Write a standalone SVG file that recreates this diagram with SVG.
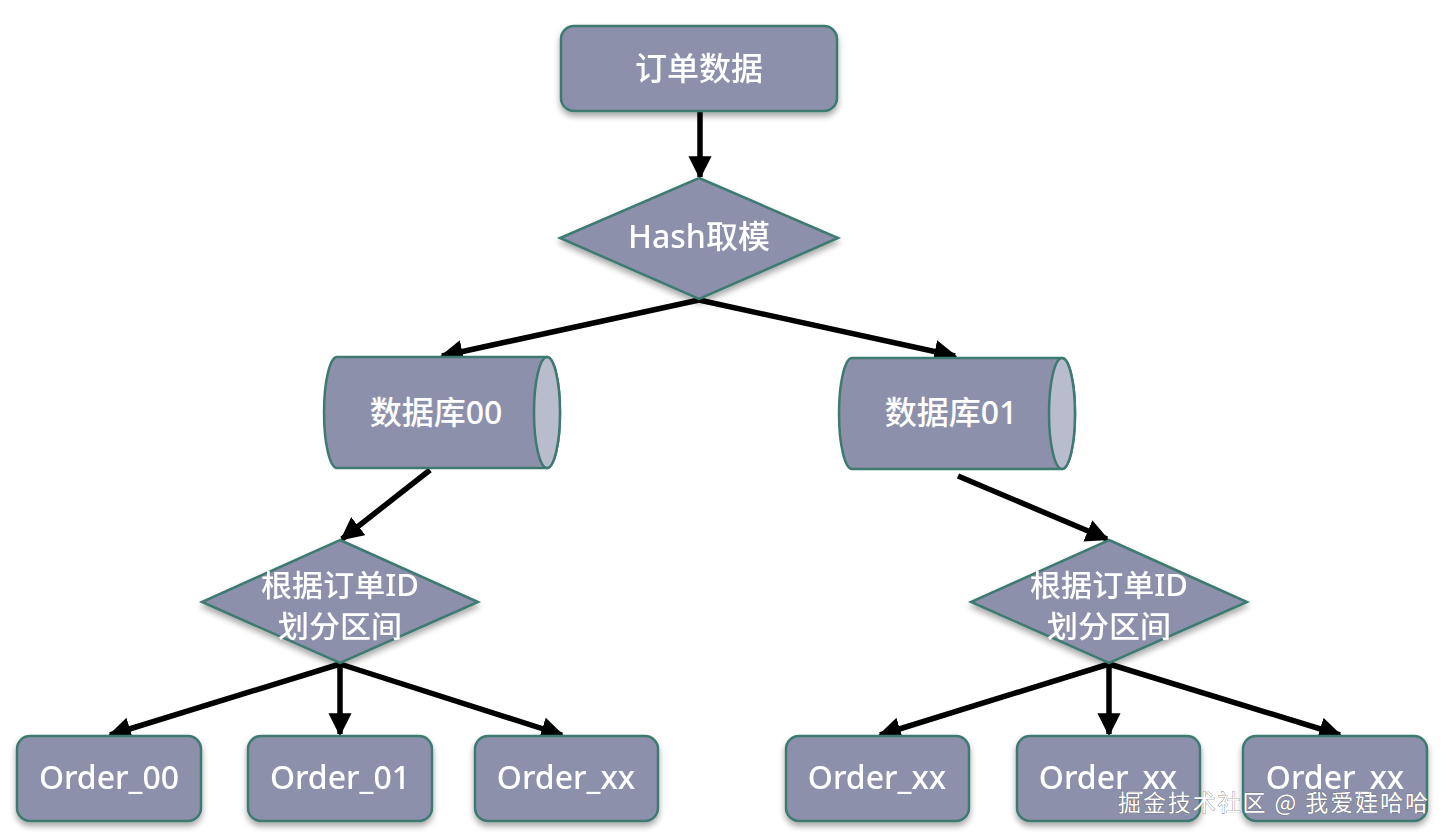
<svg xmlns="http://www.w3.org/2000/svg" width="1452" height="838" viewBox="0 0 1452 838">
<defs>
<style>
.n{fill:#8d90aa;stroke:#3d7a70;stroke-width:2.5}
.cap{fill:#b9bccd;stroke:#3d7a70;stroke-width:2.5}
.t{font-family:"Noto Sans","Noto Sans CJK SC",sans-serif;font-size:32px;fill:#ffffff;text-anchor:middle;dominant-baseline:central;font-weight:500}
.d{font-size:30px}
.c{stroke:#000;stroke-width:5.5;fill:none;marker-end:url(#ah)}
.wm{font-family:"Noto Sans CJK SC","Noto Sans",sans-serif;font-size:23px;fill:#ffffff;stroke:#555;stroke-width:0.6;paint-order:stroke}
</style>
<marker id="ah" viewBox="0 0 10 10" refX="9" refY="5" markerWidth="4.2" markerHeight="4.2" orient="auto" markerUnits="strokeWidth">
<path d="M0,0 L10,5 L0,10 Z" fill="#000"/>
</marker>
<filter id="sh" x="-10%" y="-10%" width="120%" height="130%">
<feGaussianBlur in="SourceAlpha" stdDeviation="3"/>
<feOffset dy="4"/>
<feComponentTransfer><feFuncA type="linear" slope="0.35"/></feComponentTransfer>
<feMerge><feMergeNode/><feMergeNode in="SourceGraphic"/></feMerge>
</filter>
</defs>
<rect width="1452" height="838" fill="#ffffff"/>
<g id="connectors">
<line class="c" x1="700" y1="111" x2="700" y2="177"/>
<line class="c" x1="699" y1="300" x2="442" y2="356"/>
<line class="c" x1="699" y1="300" x2="955" y2="356"/>
<line class="c" x1="430" y1="470" x2="342" y2="539"/>
<line class="c" x1="958" y1="476" x2="1107" y2="539"/>
<line class="c" x1="340" y1="664" x2="110" y2="735"/>
<line class="c" x1="340" y1="664" x2="340" y2="734"/>
<line class="c" x1="340" y1="664" x2="562" y2="735"/>
<line class="c" x1="1109" y1="664" x2="880" y2="735"/>
<line class="c" x1="1109" y1="664" x2="1109" y2="734"/>
<line class="c" x1="1109" y1="664" x2="1340" y2="735"/>
</g>
<g id="order-data" filter="url(#sh)">
<rect class="n" x="561" y="26" width="276" height="85" rx="13"/>
<text class="t" x="699" y="67">订单数据</text>
</g>
<g id="hash-mod" filter="url(#sh)">
<polygon class="n" points="699,178 838,238 699,299 560,238"/>
<text class="t" x="699" y="235">Hash取模</text>
</g>
<g id="db00">
<path class="n" d="M337,357 L547,357 A13,55.5 0 0 1 547,468 L337,468 A13,55.5 0 0 1 337,357 Z"/>
<ellipse class="cap" cx="547" cy="412.5" rx="13" ry="55.5"/>
<text class="t" x="436" y="411">数据库00</text>
</g>
<g id="db01">
<path class="n" d="M852,358 L1062,358 A13,55.5 0 0 1 1062,469 L852,469 A13,55.5 0 0 1 852,358 Z"/>
<ellipse class="cap" cx="1062" cy="413.5" rx="13" ry="55.5"/>
<text class="t" x="951" y="411">数据库01</text>
</g>
<g id="range-left" filter="url(#sh)">
<polygon class="n" points="340,540 478,602 340,663 202,602"/>
<text class="t d" x="340" y="584" textLength="158" lengthAdjust="spacingAndGlyphs">根据订单ID</text>
<text class="t d" x="340" y="625" textLength="124" lengthAdjust="spacingAndGlyphs">划分区间</text>
</g>
<g id="range-right" filter="url(#sh)">
<polygon class="n" points="1109,540 1247,602 1109,663 971,602"/>
<text class="t d" x="1109" y="584" textLength="158" lengthAdjust="spacingAndGlyphs">根据订单ID</text>
<text class="t d" x="1109" y="625" textLength="124" lengthAdjust="spacingAndGlyphs">划分区间</text>
</g>
<g id="order00" filter="url(#sh)">
<rect class="n" x="17" y="736" width="184" height="85" rx="13"/>
<text class="t" x="109" y="776">Order_00</text>
</g>
<g id="order01" filter="url(#sh)">
<rect class="n" x="248" y="736" width="184" height="85" rx="13"/>
<text class="t" x="340" y="776">Order_01</text>
</g>
<g id="orderxx-left" filter="url(#sh)">
<rect class="n" x="475" y="736" width="183" height="85" rx="13"/>
<text class="t" x="566" y="776">Order_xx</text>
</g>
<g id="orderxx-right1" filter="url(#sh)">
<rect class="n" x="786" y="736" width="183" height="85" rx="13"/>
<text class="t" x="877" y="776">Order_xx</text>
</g>
<g id="orderxx-right2" filter="url(#sh)">
<rect class="n" x="1017" y="736" width="183" height="85" rx="13"/>
<text class="t" x="1108" y="776">Order_xx</text>
</g>
<g id="orderxx-right3" filter="url(#sh)">
<rect class="n" x="1243" y="736" width="184" height="85" rx="13"/>
<text class="t" x="1335" y="776">Order_xx</text>
</g>
<text class="wm" x="1118" y="811" textLength="310" lengthAdjust="spacing">掘金技术社区 @ 我爱娃哈哈</text>
</svg>
